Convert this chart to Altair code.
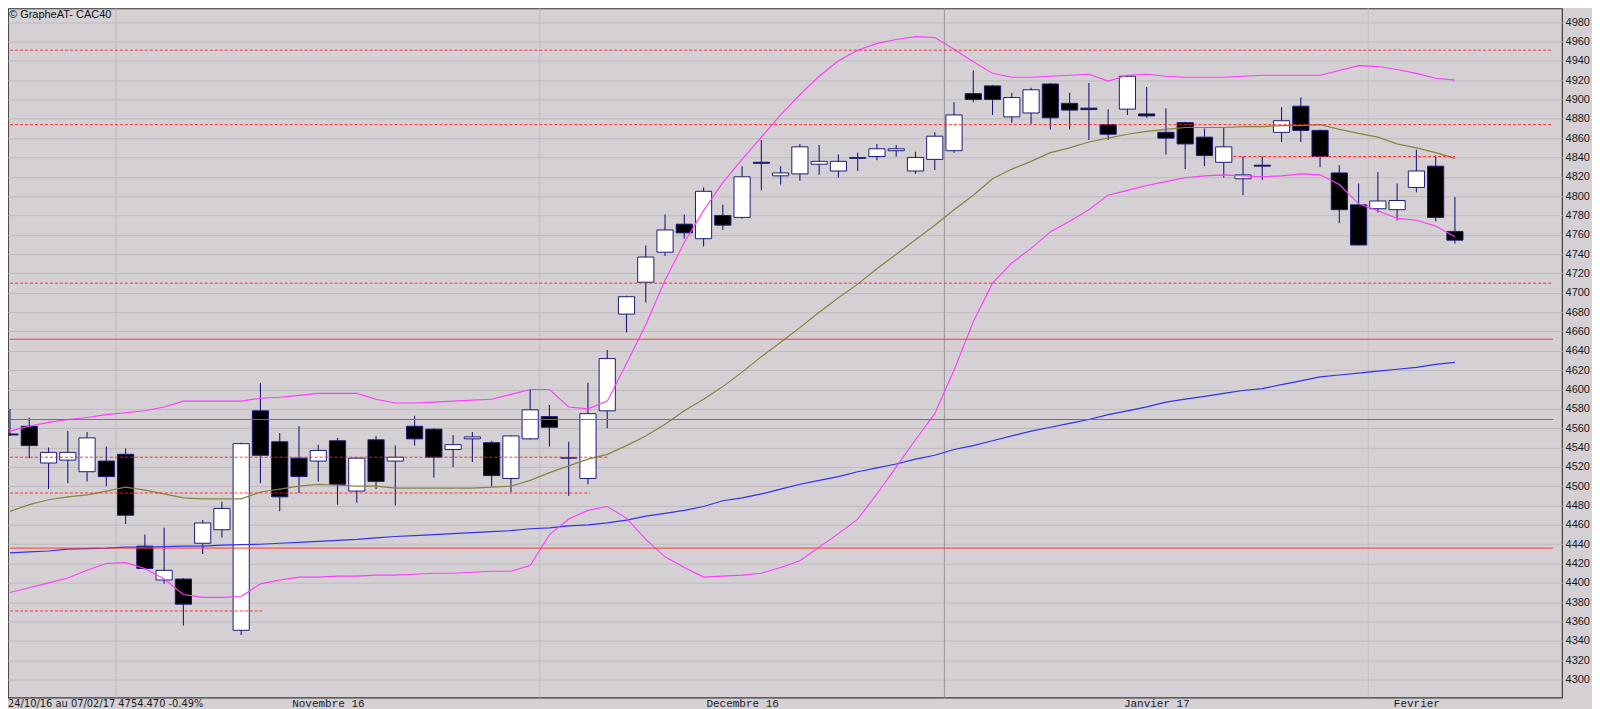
import altair as alt
import pandas as pd

# ---------------- data ----------------
# trading days 24/10/2016 -> 07/02/2017 (Euronext closed 26/12/2016)
dates = [d for d in pd.bdate_range("2016-10-24", "2017-02-07") if d != pd.Timestamp("2016-12-26")]

open_ = [4554, 4562, 4524, 4527, 4515, 4526, 4533, 4438, 4403, 4404,
         4441, 4455, 4351, 4578, 4546, 4529, 4526, 4547, 4495, 4548,
         4526, 4562, 4559, 4538, 4549, 4545, 4508, 4549, 4572, 4529,
         4508, 4578, 4678, 4711, 4742, 4771, 4756, 4780, 4778, 4835,
         4821, 4823, 4833, 4826, 4839, 4841, 4847, 4826, 4838, 4847,
         4906, 4914, 4882, 4886, 4916, 4896, 4891, 4874, 4890, 4885,
         4866, 4876, 4861, 4835, 4818, 4832, 4866, 4893, 4868, 4824,
         4791, 4787, 4786, 4809, 4831, 4763.5]
high = [4580, 4571, 4540, 4557, 4556, 4541, 4539, 4450, 4457, 4405,
        4465, 4484, 4545, 4607, 4555, 4562, 4543, 4550, 4530, 4552,
        4542, 4573, 4560, 4553, 4556, 4547, 4553, 4600, 4584, 4546,
        4607, 4641, 4697, 4749, 4781, 4781, 4809, 4791, 4831, 4858,
        4831, 4854, 4853, 4843, 4845, 4854, 4853, 4846, 4866, 4897,
        4930, 4915, 4907, 4912, 4917, 4907, 4917, 4890, 4925, 4913,
        4891, 4877, 4870, 4871, 4841, 4841, 4892, 4902, 4869, 4832,
        4813, 4825, 4813, 4848, 4842, 4799]
low = [4552, 4529, 4497, 4503, 4505, 4500, 4461, 4414, 4399, 4356,
       4430, 4447, 4346, 4503, 4474, 4493, 4505, 4481, 4483, 4497,
       4480, 4542, 4509, 4520, 4525, 4500, 4494, 4548, 4541, 4490,
       4502, 4560, 4659, 4690, 4738, 4756, 4748, 4765, 4777, 4806,
       4812, 4816, 4822, 4819, 4826, 4837, 4841, 4823, 4827, 4845,
       4897, 4884, 4876, 4875, 4869, 4869, 4858, 4858, 4884, 4881,
       4843, 4828, 4831, 4819, 4801, 4817, 4856, 4856, 4830, 4772,
       4749, 4783, 4775, 4804, 4774, 4751]
close = [4553, 4542, 4535, 4535, 4550, 4510, 4470, 4415, 4413, 4378,
         4462, 4477, 4544, 4532, 4489, 4510, 4537, 4502, 4529, 4505,
         4530, 4549, 4530, 4543, 4551, 4511, 4552, 4579, 4561, 4529.5,
         4575, 4632, 4696, 4737, 4765, 4762, 4805, 4770, 4820, 4834,
         4824, 4851, 4836, 4836, 4840, 4849, 4849, 4840, 4862, 4884,
         4900, 4900, 4902, 4910, 4881, 4889, 4889.5, 4864, 4924, 4883,
         4860, 4854, 4842, 4851, 4822, 4831, 4878, 4868, 4841, 4786,
         4749.5, 4795, 4795.5, 4826, 4778, 4754.47]

ma20 = [4474, 4481, 4486, 4489, 4491, 4495, 4499, 4496, 4492, 4488,
        4487, 4487, 4487, 4494, 4497, 4500, 4502, 4501, 4500, 4500,
        4498, 4498, 4498, 4498, 4498, 4499, 4500, 4506, 4514, 4521,
        4528, 4533, 4542, 4552, 4564, 4578, 4590, 4603, 4618, 4634,
        4649, 4664, 4680, 4695, 4709, 4725, 4740, 4755, 4770, 4786,
        4801, 4818, 4828, 4836, 4845, 4850, 4856, 4860, 4864, 4867,
        4869, 4871, 4871, 4871, 4872, 4872, 4873, 4873, 4874, 4869,
        4865, 4861, 4854, 4850, 4845, 4839]
bb_up = [4557, 4562, 4566, 4569, 4571, 4574, 4576, 4578, 4582, 4588,
         4588, 4588, 4588, 4591, 4592, 4594, 4596, 4596, 4596, 4590,
         4586, 4586, 4587, 4588, 4589, 4590, 4595, 4600, 4600, 4582,
         4580, 4588, 4627, 4667, 4713, 4752, 4785, 4814, 4838, 4861,
         4884, 4905, 4924, 4940, 4951, 4958, 4962, 4965, 4964, 4952,
         4939, 4927, 4923, 4923, 4924, 4925, 4926, 4919, 4925, 4926,
         4924, 4923, 4923, 4923, 4924, 4925, 4925, 4925, 4925, 4930,
         4935, 4934, 4931, 4927, 4922, 4920]
bb_low = [4390, 4395, 4400, 4405, 4413, 4420, 4421, 4415, 4404, 4388,
          4385, 4385, 4386, 4399, 4403, 4406, 4406, 4407, 4407, 4408,
          4408, 4409, 4410, 4410, 4411, 4412, 4412, 4418, 4450, 4466,
          4475, 4479, 4467, 4445, 4427, 4416, 4406, 4407, 4408, 4410,
          4416, 4423, 4437, 4451, 4466, 4492, 4520, 4548, 4575, 4620,
          4670, 4710, 4731, 4746, 4763, 4774, 4786, 4801, 4806, 4811,
          4815, 4819, 4821, 4822, 4821, 4820, 4821, 4823, 4822, 4812,
          4792, 4785, 4777, 4775, 4769, 4758]
ma_long = [4431, 4432, 4433, 4435, 4435.5, 4436, 4437, 4437, 4437.5, 4438,
           4438, 4439, 4439.5, 4440, 4441, 4442, 4443, 4444, 4445, 4446.5,
           4448, 4449, 4450, 4451, 4452, 4453, 4454, 4456, 4457, 4459,
           4460, 4462, 4465, 4469, 4472, 4475, 4479, 4485, 4488, 4492,
           4497, 4502, 4506, 4510, 4515, 4519, 4523, 4528, 4532, 4538,
           4542, 4547, 4552, 4557, 4561, 4565, 4569, 4574, 4578, 4582,
           4587, 4590, 4593, 4596, 4599, 4601, 4605, 4609, 4613, 4615,
           4617, 4619, 4621, 4623, 4626, 4628]

# horizontal support / resistance levels (extent in trading-day index)
dash_levels = [4951, 4874, 4841, 4710, 4530, 4493, 4371]
dash_from = [0, 0, 63.5, 0, 0, 0, 0]
dash_to = [80.1, 80.1, 75.0, 80.1, 31.1, 30.1, 13.1]
solid_levels = [4652, 4569, 4436]
solid_from = [0, 0, 0]
solid_to = [80.1, 80.1, 80.1]

month_names = ["Novembre 16", "Decembre 16", "Janvier 17", "Fevrier"]
title_text = "\u00a9 GrapheAT- CAC40"
y_ticks = list(range(4300, 4981, 20))

n = len(dates)
assert all(len(a) == n for a in [open_, high, low, close, ma20, bb_up, bb_low, ma_long])

df = pd.DataFrame({"i": list(range(n)), "open": open_, "high": high, "low": low,
                   "close": close, "ma20": ma20, "bb_up": bb_up, "bb_low": bb_low,
                   "ma_long": ma_long})

# month boundaries and month centres
bounds, ychange = [], []
for k in range(1, n):
    if dates[k].month != dates[k - 1].month:
        bounds.append(k - 0.5)
        ychange.append("y" if dates[k].year != dates[k - 1].year else "n")
bdf = pd.DataFrame({"b": bounds, "yc": ychange})

months = []
for k, d in enumerate(dates):
    key = (d.year, d.month)
    if not months or months[-1][0] != key:
        months.append([key, []])
    months[-1][1].append(k)
mids = [sum(ks) / len(ks) for _, ks in months][1:]  # skip October
edges = bounds[1:] + [1e9]
expr = "''"
for name, e in reversed(list(zip(month_names, edges))):
    expr = f"datum.value < {e} ? '{name}' : ({expr})"

pct = (close[-1] / close[-2] - 1) * 100
range_text = f"{dates[0]:%d/%m/%y} au {dates[-1]:%d/%m/%y} {close[-1]:.3f} {pct:.2f}%"

ddf = pd.DataFrame({"v": dash_levels, "a": dash_from, "b": dash_to})
sdf = pd.DataFrame({"v": solid_levels, "a": solid_from, "b": solid_to})

# ---------------- layout ----------------
W, H = 1556, 690
X_MIN, X_MAX = -0.1037, 80.56
Y_MIN, Y_MAX = 4281.41, 4994.13
BG = "#d4d0d4"
NAVY = "#1c1c78"

xscale = alt.Scale(domain=[X_MIN, X_MAX], nice=False, zero=False)
yscale = alt.Scale(domain=[Y_MIN, Y_MAX], nice=False, zero=False)
xaxis = alt.Axis(values=mids, labelExpr=expr, grid=False, ticks=False, tickSize=0,
                 domain=False, labelFont="Liberation Mono", labelFontSize=11,
                 labelColor="#1a1a1a", labelPadding=9, labelBaseline="alphabetic",
                 labelOverlap=False, title=None)
yaxis = alt.Axis(orient="right", values=y_ticks, format="d", grid=True, gridColor="#bfbbbf",
                 gridWidth=1, ticks=False, tickSize=0, domain=False,
                 labelFont="Liberation Sans", labelFontSize=11, labelColor="#1a1a1a",
                 labelPadding=3, labelOverlap=False, title=None)


def X(f):
    return alt.X(f, type="quantitative", scale=xscale, axis=xaxis)


def Y(f):
    return alt.Y(f, type="quantitative", scale=yscale, axis=yaxis)


base = alt.Chart(df)

month_rules = alt.Chart(bdf).mark_rule(strokeWidth=1).encode(
    x=X("b"),
    color=alt.Color("yc:N", scale=alt.Scale(domain=["n", "y"], range=["#c0bcc0", "#9a969a"]),
                    legend=None),
)

wicks = base.mark_rule(color=NAVY, strokeWidth=1.1).encode(x=X("i"), y=Y("low"), y2="high")

bodies = base.transform_calculate(
    x0="datum.i - 0.42", x1="datum.i + 0.42"
).mark_rect(stroke=NAVY, strokeWidth=1).encode(
    x=X("x0"), x2="x1", y=Y("open"), y2="close",
    fill=alt.condition("datum.close >= datum.open", alt.value("#ffffff"), alt.value("#000000")),
)

line_long = base.mark_line(color="#3232f0", strokeWidth=1.2).encode(x=X("i"), y=Y("ma_long"))
line_ma = base.mark_line(color="#86843f", strokeWidth=1.2).encode(x=X("i"), y=Y("ma20"))
line_up = base.mark_line(color="#ff3cff", strokeWidth=1.1).encode(x=X("i"), y=Y("bb_up"))
line_low = base.mark_line(color="#ff3cff", strokeWidth=1.1).encode(x=X("i"), y=Y("bb_low"))

dash_rules = alt.Chart(ddf).mark_rule(color="#ff2020", strokeWidth=1, strokeDash=[3, 2],
                                      opacity=0.9).encode(x=X("a"), x2="b", y=Y("v"))
solid_rules = alt.Chart(sdf).mark_rule(color="#ff3838", strokeWidth=1).encode(
    x=X("a"), x2="b", y=Y("v"))

title_mark = alt.Chart(pd.DataFrame({"t": [title_text]})).mark_text(
    align="left", baseline="top", font="Liberation Sans", fontSize=11, color="#111111"
).encode(x=alt.value(1), y=alt.value(1), text="t:N")

range_mark = alt.Chart(pd.DataFrame({"t": [range_text]})).mark_text(
    align="left", baseline="alphabetic",
    font="Liberation Sans Narrow, DejaVu Sans Condensed, Liberation Sans",
    fontSize=11, color="#1a1a1a"
).encode(x=alt.value(0), y=alt.value(H + 9), text="t:N")

chart = alt.layer(
    month_rules, wicks, bodies, line_long, line_ma, line_up, line_low,
    solid_rules, dash_rules, title_mark, range_mark
).properties(
    width=W, height=H,
    autosize=alt.AutoSizeParams(type="none"),
    padding={"left": 0, "top": 0, "right": 30, "bottom": 11},
).configure(background=BG).configure_view(stroke="#3a3a3a", strokeWidth=1.2)

chart.save("out.html", embed_options={"renderer": "svg", "actions": False})
